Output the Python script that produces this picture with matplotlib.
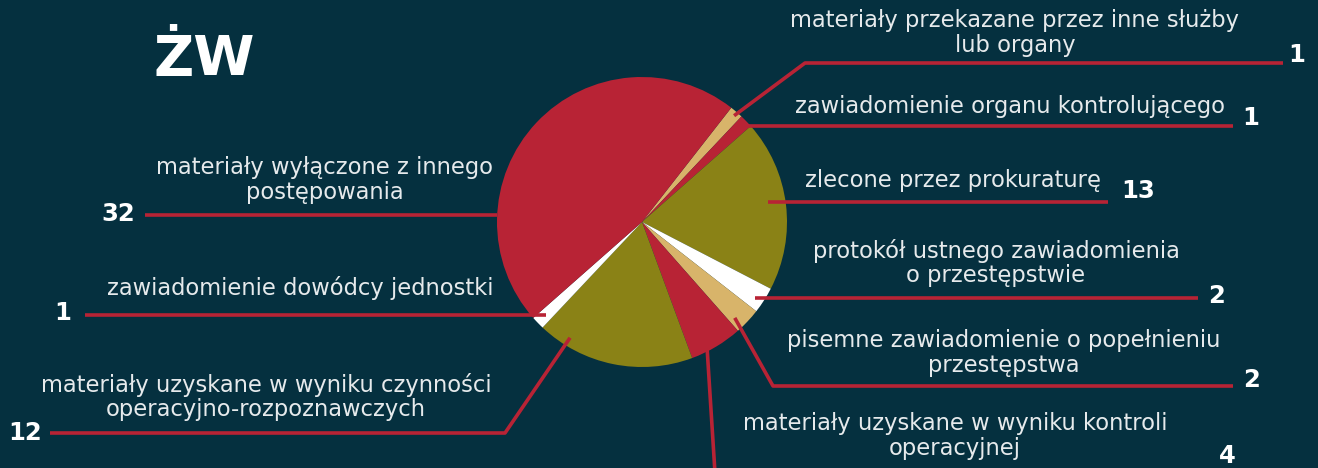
import numpy as np
import matplotlib.pyplot as plt

# dane
kategorie = [
    "materiały przekazane przez inne służby\nlub organy",
    "zawiadomienie organu kontrolującego",
    "zlecone przez prokuraturę",
    "protokół ustnego zawiadomienia\no przestępstwie",
    "pisemne zawiadomienie o popełnieniu\nprzestępstwa",
    "materiały uzyskane w wyniku kontroli\noperacyjnej",
    "materiały uzyskane w wyniku czynności\noperacyjno-rozpoznawczych",
    "zawiadomienie dowódcy jednostki",
    "materiały wyłączone z innego\npostępowania",
]
wartosci = [1, 1, 13, 2, 2, 4, 12, 1, 32]
tytul = "ŻW"

# kolory
TLO = "#05303F"
CZERWONY = "#B82335"
OLIWKA = "#8A8216"
PIASEK = "#D8B46A"
BIALY = "#FFFFFF"
kolory = [PIASEK, CZERWONY, OLIWKA, BIALY, PIASEK, CZERWONY, OLIWKA, BIALY, CZERWONY]

W, H = 1318, 468
fig = plt.figure(figsize=(W / 100, H / 100), dpi=100, facecolor=TLO)
ax = fig.add_axes([0, 0, 1, 1])
ax.set_facecolor(TLO)

cx, cy, R = 642, H - 222, 145
start = 52
ax.pie(wartosci, colors=kolory, startangle=start, counterclock=False,
       center=(cx, cy), radius=R, frame=True,
       wedgeprops=dict(linewidth=0))
ax.set_xlim(0, W)
ax.set_ylim(0, H)
ax.set_aspect("equal")
ax.axis("off")

# układ etykiet: (t wzdłuż klina, r, załamanie, koniec linii x, tekst xy, liczba xy)
uklad = [
    (0.55, 0.97, (805, 63), 1283, (1015, 33), (1297, 55)),
    (0.70, 0.97, None, 1233, (1010, 107), (1251, 118)),
    (0.47, 0.88, None, 1108, (953, 180), (1138, 191)),
    (0.62, 0.94, None, 1198, (996, 263), (1217, 296)),
    (0.75, 0.92, (773, 386), 1233, (1004, 353), (1252, 380)),
    (0.68, 0.99, None, None, (955, 436), (1227, 456)),
    (0.82, 0.94, (505, 433), 50, (266, 397), (25, 433)),
    (0.50, 0.92, None, 85, (300, 288), (63, 313)),
    (0.26, 1.00, None, 145, (325, 180), (118, 214)),
]

suma = sum(wartosci)
kum = 0
for i, v in enumerate(wartosci):
    a0 = start - 360 * kum / suma
    a1 = a0 - 360 * v / suma
    kum += v
    t, rr, zal, x_end, txy, nxy = uklad[i]
    ang = np.radians(a0 + t * (a1 - a0))
    ax0 = cx + rr * R * np.cos(ang)
    ay0 = cy + rr * R * np.sin(ang)
    if zal is not None:
        xs = [ax0, zal[0], x_end]
        ys = [ay0, H - zal[1], H - zal[1]]
    elif x_end is not None:
        xs = [ax0, x_end]
        ys = [ay0, ay0]
    else:
        xs = [ax0, 715]
        ys = [ay0, -5]
    ax.plot(xs, ys, color=CZERWONY, lw=2.6, solid_capstyle="butt", clip_on=False)
    ax.text(txy[0], H - txy[1], kategorie[i], color="#E6EAEC", fontsize=16.3,
            ha="center", va="center", linespacing=1.08, family="DejaVu Sans")
    ax.text(nxy[0], H - nxy[1], str(v), color="white", fontsize=17.5,
            fontweight="bold", ha="center", va="center", family="DejaVu Sans")

ax.text(204, H - 60, tytul, color="white", fontsize=40, fontweight="bold",
        ha="center", va="center", family="DejaVu Sans")

fig.savefig("out.png", dpi=100, facecolor=TLO)
